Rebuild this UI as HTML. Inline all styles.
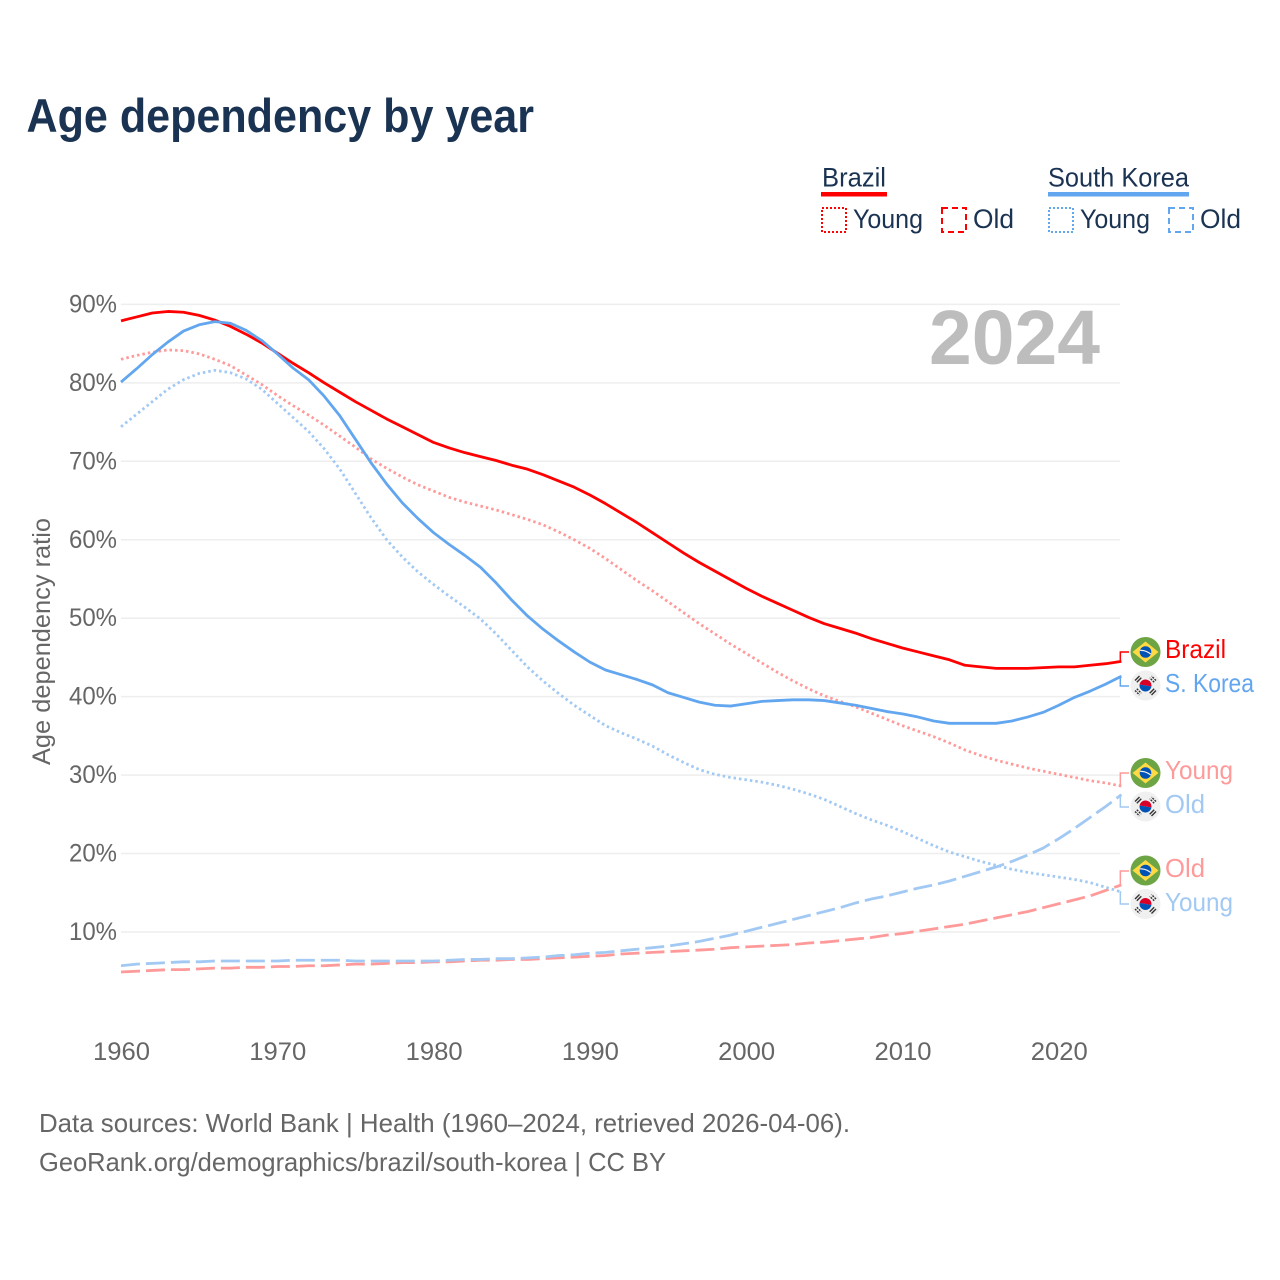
<!DOCTYPE html>
<html lang="en">
<head>
<meta charset="utf-8">
<title>Age dependency by year</title>
<style>
html,body{margin:0;padding:0;background:#fff}
svg{display:block}
text{font-family:"Liberation Sans",sans-serif}
</style>
</head>
<body>
<svg id="chart" width="1280" height="1280" viewBox="0 0 1280 1280" xmlns="http://www.w3.org/2000/svg">
  <rect width="1280" height="1280" fill="#fff"/>
  <text x="26.5" y="132" font-size="47" font-weight="700" fill="#1a3352" textLength="507.5" lengthAdjust="spacingAndGlyphs">Age dependency by year</text>

  <g font-size="27" fill="#1a3352">
    <text x="822" y="186.5" textLength="64" lengthAdjust="spacingAndGlyphs">Brazil</text>
    <rect x="821" y="192" width="66" height="4.5" fill="#ff0000"/>
    <rect x="822" y="208" width="24" height="24" fill="none" stroke="#ff0000" stroke-width="2" stroke-dasharray="2 2"/>
    <text x="853" y="228" textLength="70" lengthAdjust="spacingAndGlyphs">Young</text>
    <rect x="942" y="208" width="24" height="24" fill="none" stroke="#ff0000" stroke-width="2" stroke-dasharray="6 4"/>
    <text x="973" y="228" textLength="41" lengthAdjust="spacingAndGlyphs">Old</text>
    <text x="1048" y="186.5" textLength="141" lengthAdjust="spacingAndGlyphs">South Korea</text>
    <rect x="1048" y="192" width="141" height="4.5" fill="#62a6ef"/>
    <rect x="1049" y="208" width="24" height="24" fill="none" stroke="#62a6ef" stroke-width="2" stroke-dasharray="2 2"/>
    <text x="1080" y="228" textLength="70" lengthAdjust="spacingAndGlyphs">Young</text>
    <rect x="1169" y="208" width="24" height="24" fill="none" stroke="#62a6ef" stroke-width="2" stroke-dasharray="6 4"/>
    <text x="1200" y="228" textLength="41" lengthAdjust="spacingAndGlyphs">Old</text>
  </g>

  <g id="grid"></g>
  <g id="ylabels"></g>
  <g id="xlabels"></g>
  <text x="929" y="364" font-size="77" font-weight="700" fill="#bdbdbd" textLength="171" lengthAdjust="spacingAndGlyphs">2024</text>
  <text transform="translate(50 765) rotate(-90)" font-size="25" fill="#666" textLength="247" lengthAdjust="spacingAndGlyphs">Age dependency ratio</text>
  <g id="series"></g>
  <g id="connectors"></g>

  <defs>
    <g id="flag-br">
      <circle r="15" fill="#6da544"/>
      <polygon points="0,-10.5 13,0 0,10.5 -13,0" fill="#ffda44"/>
      <circle r="5.8" fill="#0052b4"/>
      <path d="M-5.4,-1.6 Q0,-2 5.2,2" stroke="#f0f0f0" stroke-width="1.2" fill="none"/>
    </g>
    <g id="flag-kr">
      <circle r="15" fill="#f0f0f0"/>
      <path d="M-6,0 A6,6 0 0 1 6,0 Z" fill="#d80027" transform="rotate(10)"/>
      <path d="M-6,0 A6,6 0 0 0 6,0 Z" fill="#0052b4" transform="rotate(10)"/>
      <g stroke="#333" stroke-width="1.4">
        <path d="M-10.5,-5 L-6,-9.5 M-8.7,-3.2 L-4.2,-7.7"/>
        <path d="M10.5,-5 L6,-9.5 M8.7,-3.2 L4.2,-7.7" stroke-dasharray="2 1"/>
        <path d="M-10.5,5 L-6,9.5 M-8.7,3.2 L-4.2,7.7" stroke-dasharray="2 1"/>
        <path d="M10.5,5 L6,9.5 M8.7,3.2 L4.2,7.7"/>
      </g>
    </g>
  </defs>

  <g font-size="26">
    <use href="#flag-br" x="1145.5" y="652"/>
    <text x="1165" y="658" fill="#ff0000" textLength="61" lengthAdjust="spacingAndGlyphs">Brazil</text>
    <use href="#flag-kr" x="1145.5" y="685.5"/>
    <text x="1165" y="692" fill="#62a6ef" textLength="89" lengthAdjust="spacingAndGlyphs">S. Korea</text>
    <use href="#flag-br" x="1145.5" y="773"/>
    <text x="1165" y="779" fill="#ff9a9a" textLength="68" lengthAdjust="spacingAndGlyphs">Young</text>
    <use href="#flag-kr" x="1145.5" y="806.5"/>
    <text x="1165" y="813" fill="#a2c9f3" textLength="40" lengthAdjust="spacingAndGlyphs">Old</text>
    <use href="#flag-br" x="1145.5" y="870.5"/>
    <text x="1165" y="877" fill="#ff9a9a" textLength="40" lengthAdjust="spacingAndGlyphs">Old</text>
    <use href="#flag-kr" x="1145.5" y="904"/>
    <text x="1165" y="911" fill="#a2c9f3" textLength="68" lengthAdjust="spacingAndGlyphs">Young</text>
  </g>

  <g font-size="26" fill="#666">
    <text x="39" y="1132" textLength="811" lengthAdjust="spacingAndGlyphs">Data sources: World Bank | Health (1960–2024, retrieved 2026-04-06).</text>
    <text x="39" y="1171" textLength="627" lengthAdjust="spacingAndGlyphs">GeoRank.org/demographics/brazil/south-korea | CC BY</text>
  </g>
</svg>

<script>
const startYear = 1960;
const yTicks = [10, 20, 30, 40, 50, 60, 70, 80, 90];
const xTicks = [1960, 1970, 1980, 1990, 2000, 2010, 2020];

const brazilTotal = [87.9,88.4,88.9,89.1,89.0,88.6,88.0,87.2,86.2,85.1,
  83.8,82.5,81.3,80.0,78.8,77.6,76.5,75.4,74.4,73.4,
  72.4,71.7,71.1,70.6,70.1,69.5,69.0,68.3,67.5,66.7,
  65.7,64.6,63.4,62.2,60.9,59.6,58.3,57.1,56.0,54.9,
  53.8,52.8,51.9,51.0,50.1,49.3,48.7,48.1,47.4,46.8,
  46.2,45.7,45.2,44.7,44.0,43.8,43.6,43.6,43.6,43.7,
  43.8,43.8,44.0,44.2,44.5];
const koreaTotal = [80.1,81.8,83.6,85.2,86.6,87.4,87.8,87.6,86.7,85.4,
  83.7,81.9,80.4,78.3,75.8,72.8,69.8,67.1,64.7,62.7,
  60.9,59.4,58.0,56.5,54.5,52.3,50.3,48.6,47.1,45.7,
  44.4,43.4,42.8,42.2,41.5,40.5,39.9,39.3,38.9,38.8,
  39.1,39.4,39.5,39.6,39.6,39.5,39.2,38.9,38.5,38.1,
  37.8,37.4,36.9,36.6,36.6,36.6,36.6,36.9,37.4,38.0,
  38.9,39.9,40.7,41.6,42.6];
const brazilYoung = [83.0,83.5,83.9,84.2,84.1,83.7,83.0,82.2,81.0,79.8,
  78.4,77.1,75.9,74.6,73.2,71.8,70.3,69.1,68.0,67.0,
  66.2,65.4,64.8,64.3,63.8,63.2,62.6,61.9,61.0,60.0,
  58.9,57.6,56.2,54.8,53.5,52.1,50.7,49.3,48.0,46.7,
  45.5,44.3,43.1,42.0,41.0,40.1,39.4,38.7,37.9,37.1,
  36.3,35.6,34.9,34.1,33.2,32.5,31.9,31.4,30.9,30.5,
  30.1,29.7,29.3,29.0,28.6];
const koreaYoung = [74.4,76.0,77.6,79.2,80.4,81.2,81.6,81.3,80.5,79.2,
  77.4,75.6,73.8,71.6,69.0,65.9,62.8,60.0,57.8,55.9,
  54.3,52.8,51.4,49.9,48.0,45.9,43.8,42.0,40.4,38.9,
  37.6,36.3,35.4,34.6,33.7,32.6,31.6,30.7,30.1,29.7,
  29.4,29.1,28.7,28.2,27.6,26.9,26.0,25.1,24.3,23.6,
  22.8,21.9,21.0,20.2,19.6,19.0,18.5,18.0,17.6,17.3,
  17.0,16.7,16.3,15.7,15.1];
const brazilOld = [4.9,5.0,5.1,5.2,5.2,5.3,5.4,5.4,5.5,5.5,
  5.6,5.6,5.7,5.7,5.8,5.9,5.9,6.0,6.1,6.1,
  6.2,6.2,6.3,6.4,6.4,6.5,6.5,6.6,6.7,6.8,
  6.9,7.0,7.2,7.3,7.4,7.5,7.6,7.7,7.8,8.0,
  8.1,8.2,8.3,8.4,8.6,8.7,8.9,9.1,9.3,9.6,
  9.8,10.1,10.4,10.7,11.0,11.4,11.8,12.2,12.6,13.1,
  13.6,14.1,14.6,15.3,16.0];
const koreaOld = [5.7,5.9,6.0,6.1,6.2,6.2,6.3,6.3,6.3,6.3,
  6.3,6.4,6.4,6.4,6.4,6.3,6.3,6.3,6.3,6.3,
  6.3,6.4,6.5,6.5,6.6,6.6,6.7,6.8,7.0,7.1,
  7.3,7.4,7.6,7.8,8.0,8.2,8.5,8.8,9.2,9.6,
  10.1,10.6,11.1,11.6,12.1,12.6,13.1,13.7,14.2,14.6,
  15.1,15.6,16.0,16.5,17.1,17.7,18.3,19.0,19.8,20.7,
  21.9,23.2,24.6,26.0,27.5];

const NS = 'http://www.w3.org/2000/svg';
const xScale = function (year) { return 121 + (year - startYear) * 15.63; };
const yScale = function (value) { return 1010.45 - value * 7.845; };

const gridGroup = document.getElementById('grid');
const yLabelGroup = document.getElementById('ylabels');
const xLabelGroup = document.getElementById('xlabels');
const seriesGroup = document.getElementById('series');
const connectorGroup = document.getElementById('connectors');

yTicks.forEach(function (tick) {
  const line = document.createElementNS(NS, 'line');
  
  
  line.setAttribute('x1', 121);
  line.setAttribute('x2', 1120);
  line.setAttribute('y1', yScale(tick));
  line.setAttribute('y2', yScale(tick));
  line.setAttribute('stroke', '#eeeeee');
  line.setAttribute('stroke-width', 1.5);
  gridGroup.appendChild(line);

  const label = document.createElementNS(NS, 'text');
  
  
  label.setAttribute('x', 69);
  label.setAttribute('y', yScale(tick) + 8);
  label.setAttribute('font-size', 25);
  label.setAttribute('fill', '#666');
  label.setAttribute('textLength', 48);
  label.setAttribute('lengthAdjust', 'spacingAndGlyphs');
  label.textContent = tick + '%';
  yLabelGroup.appendChild(label);
});

xTicks.forEach(function (tick) {
  const label = document.createElementNS(NS, 'text');
  
  
  label.setAttribute('x', xScale(tick) - 28);
  label.setAttribute('y', 1060);
  label.setAttribute('font-size', 25);
  label.setAttribute('fill', '#666');
  label.setAttribute('textLength', 57);
  label.setAttribute('lengthAdjust', 'spacingAndGlyphs');
  label.textContent = tick;
  xLabelGroup.appendChild(label);
});

function drawSeries(values, name, color, width, dash) {
  const path = document.createElementNS(NS, 'path');
  let d = '';
  values.forEach(function (value, i) {
    d += (i ? 'L' : 'M') + xScale(startYear + i).toFixed(2) + ',' + yScale(value).toFixed(2);
  });
  
  
  path.setAttribute('d', d);
  path.setAttribute('fill', 'none');
  path.setAttribute('stroke', color);
  path.setAttribute('stroke-width', width);
  path.setAttribute('stroke-linejoin', 'round');
  if (dash) path.setAttribute('stroke-dasharray', dash);
  seriesGroup.appendChild(path);
}

drawSeries(brazilOld, 'line-brazil-old', '#ff9a9a', 2.8, '19 6');
drawSeries(koreaOld, 'line-korea-old', '#a2c9f3', 2.8, '19 6');
drawSeries(brazilYoung, 'line-brazil-young', '#ff9a9a', 2.8, '2.5 3');
drawSeries(koreaYoung, 'line-korea-young', '#a2c9f3', 2.8, '2.5 3');
drawSeries(brazilTotal, 'line-brazil-total', '#ff0000', 2.8, '');
drawSeries(koreaTotal, 'line-korea-total', '#62a6ef', 2.8, '');

function drawConnector(value, labelY, name, color) {
  const endX = xScale(startYear + brazilTotal.length - 1);
  const path = document.createElementNS(NS, 'path');
  
  
  path.setAttribute('d', 'M' + endX + ',' + yScale(value) + 'L' + (endX - 1) + ',' + yScale(value) + 'V' + labelY + 'H1129');
  path.setAttribute('fill', 'none');
  path.setAttribute('stroke', color);
  path.setAttribute('stroke-width', 1.5);
  connectorGroup.appendChild(path);
}

drawConnector(brazilTotal[brazilTotal.length - 1], 652, 'connector-brazil-total', '#ff0000');
drawConnector(koreaTotal[koreaTotal.length - 1], 686, 'connector-korea-total', '#62a6ef');
drawConnector(brazilYoung[brazilYoung.length - 1], 773, 'connector-brazil-young', '#ff9a9a');
drawConnector(koreaOld[koreaOld.length - 1], 807, 'connector-korea-old', '#a2c9f3');
drawConnector(brazilOld[brazilOld.length - 1], 871, 'connector-brazil-old', '#ff9a9a');
drawConnector(koreaYoung[koreaYoung.length - 1], 904, 'connector-korea-young', '#a2c9f3');
</script>
</body>
</html>
